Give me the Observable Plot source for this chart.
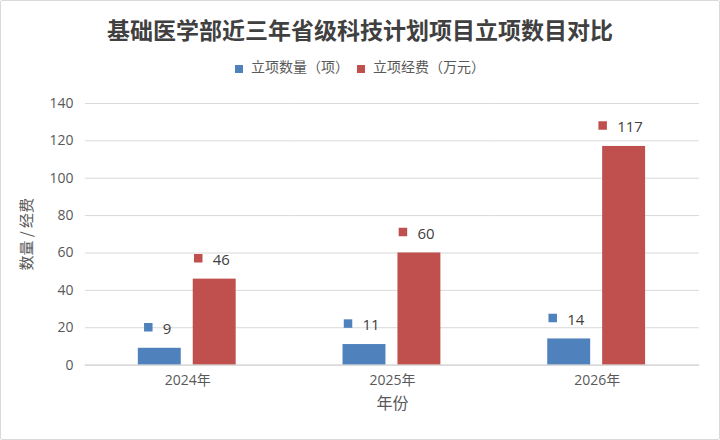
<!DOCTYPE html>
<html>
<head>
<meta charset="utf-8">
<script src="https://cdn.jsdelivr.net/npm/d3@7"></script>
<script src="https://cdn.jsdelivr.net/npm/@observablehq/plot@0.6"></script>
<style>
  html, body { margin: 0; padding: 0; background: #fff; }
  #card { position: relative; width: 720px; height: 440px; box-sizing: border-box; border: 1px solid #d9d9d9; border-radius: 2px; background: #fff; overflow: hidden; font-family: "Open Sans", "Noto Sans CJK SC", sans-serif; }
  #title { position: absolute; left: 0; right: 0; top: 12px; height: 32px; line-height: 32px; text-align: center; font-family: "Noto Sans CJK SC", sans-serif; font-weight: 700; font-size: 23px; color: #404040; }
  #legend { position: absolute; left: 0; right: 0; top: 55px; height: 20px; line-height: 20px; text-align: center; font-size: 14px; color: #595959; font-family: "Noto Sans CJK SC", sans-serif; }
  #legend .item { display: inline-block; margin: 0 4px; }
  #legend .sw { display: inline-block; width: 8px; height: 8px; margin-right: 8px; vertical-align: -1px; }
  #chart { position: absolute; left: -1px; top: 83px; }
</style>
</head>
<body>
<div id="card">
  <div id="title"></div>
  <div id="legend"></div>
  <div id="chart"></div>
</div>
<script>
const titleText = "基础医学部近三年省级科技计划项目立项数目对比";
const years = ["2024年", "2025年", "2026年"];
const seriesNames = ["立项数量（项）", "立项经费（万元）"];
const countValues = [9, 11, 14];
const fundValues = [46, 60, 117];
const seriesColors = ["#4F81BD", "#C0504D"];
const yTicks = [0, 20, 40, 60, 80, 100, 120, 140];
const yLabel = "数量 / 经费";
const xLabel = "年份";

document.getElementById("title").textContent = titleText;
const legend = document.getElementById("legend");
seriesNames.forEach((name, i) => {
  const item = document.createElement("span");
  item.className = "item";
  const sw = document.createElement("span");
  sw.className = "sw";
  sw.style.background = seriesColors[i];
  item.appendChild(sw);
  item.appendChild(document.createTextNode(name));
  legend.appendChild(item);
});

const data = years.flatMap((yr, i) => [
  {year: yr, series: seriesNames[0], value: countValues[i]},
  {year: yr, series: seriesNames[1], value: fundValues[i]}
]);

// value labels: colored square + number, grouped by digit count for centering
const labelMarks = [];
[1, 2, 3].forEach(n => {
  const subset = data.filter(d => String(d.value).length === n);
  if (!subset.length) return;
  const sqDx = -(6.5 + 5 * n);
  labelMarks.push(Plot.dot(subset, {fx: "year", x: "series", y: "value", symbol: "square", r: 4.8, fill: "series", stroke: "none", dx: sqDx, dy: -21}));
  labelMarks.push(Plot.text(subset, {fx: "year", x: "series", y: "value", text: d => String(d.value), textAnchor: "start", dx: sqDx + 14.5, dy: -19, fill: "#404040", fontSize: 15}));
});

const chart = Plot.plot({
  width: 720,
  height: 350,
  marginTop: 19,
  marginBottom: 69,
  marginLeft: 84,
  marginRight: 19,
  style: {fontFamily: "'Open Sans','Noto Sans CJK SC',sans-serif", fontSize: "14px", color: "#595959", background: "transparent", overflow: "visible"},
  fx: {domain: years, padding: 0, label: null},
  x: {domain: seriesNames, paddingInner: 0.214, paddingOuter: 0.944, axis: null},
  y: {domain: [0, 140], label: null},
  color: {domain: seriesNames, range: seriesColors},
  marks: [
    Plot.gridY(yTicks, {stroke: "#d9d9d9", strokeOpacity: 1}),
    Plot.axisY(yTicks, {tickSize: 0, tickPadding: 12, label: null, fontSize: 14}),
    Plot.axisFx({anchor: "bottom", tickSize: 0, tickPadding: 10, label: null, fontSize: 14}),
    Plot.text([yLabel], {facet: "super", frameAnchor: "left", textAnchor: "middle", rotate: -90, dx: -58, fontSize: 15, fill: "#595959", fontFamily: "'Noto Sans CJK SC',sans-serif"}),
    Plot.text([xLabel], {facet: "super", frameAnchor: "bottom", dy: 44, fontSize: 16, fill: "#595959", fontFamily: "'Noto Sans CJK SC',sans-serif"}),
    Plot.barY(data, {fx: "year", x: "series", y: "value", fill: "series"}),
    Plot.ruleY([0], {stroke: "#d0d0d0"}),
    ...labelMarks
  ]
});
document.getElementById("chart").appendChild(chart);
</script>
</body>
</html>
